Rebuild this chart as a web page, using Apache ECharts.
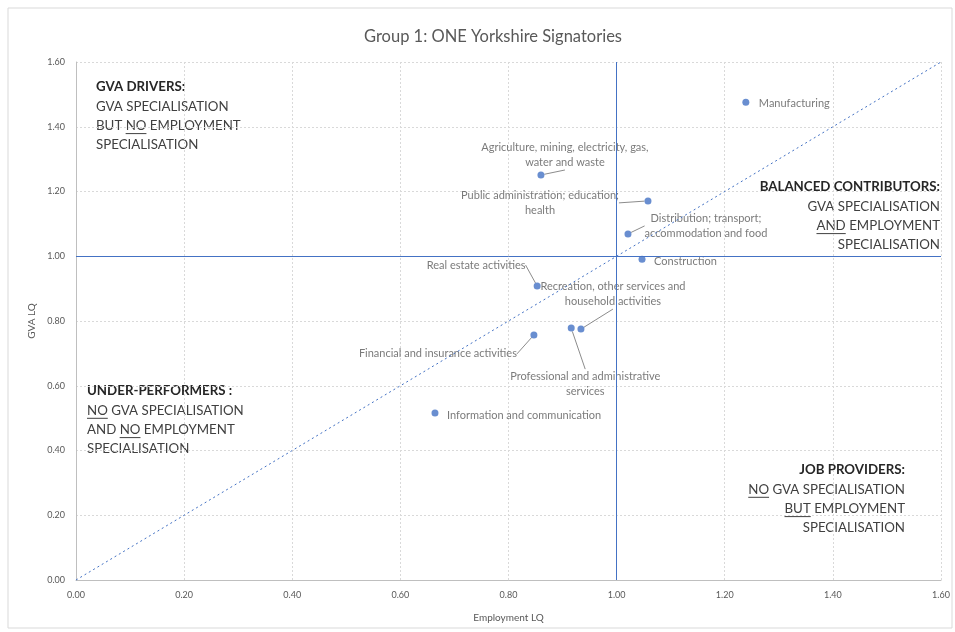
<!DOCTYPE html>
<html lang="en">
<head>
    <meta charset="UTF-8">
    <title>Group 1: ONE Yorkshire Signatories</title>
    <script src="https://cdn.jsdelivr.net/npm/echarts@6/dist/echarts.min.js"></script>
    <style>
        html, body { margin: 0; padding: 0; background: #fff; }
    </style>
</head>
<body>
    <div id="main" style="width: 955px;height:632px;"></div>

    <script type="text/javascript">
        // data
        var sectors = [
            'Manufacturing',
            'Agriculture, mining, electricity, gas,\nwater and waste',
            'Public administration; education;\nhealth',
            'Distribution; transport;\naccommodation and food',
            'Construction',
            'Real estate activities',
            'Recreation, other services and\nhousehold activities',
            'Professional and administrative\nservices',
            'Financial and insurance activities',
            'Information and communication'
        ];
        var employmentLQ = [1.239, 0.860, 1.058, 1.021, 1.047, 0.853, 0.934, 0.916, 0.847, 0.664];
        var gvaLQ = [1.476, 1.251, 1.171, 1.069, 0.991, 0.908, 0.775, 0.778, 0.757, 0.516];
        var axisMax = 1.6;
        var axisStep = 0.2;
        var refLQ = 1.0;

        // label placement (offset of label from its point, px)
        var labelPlace = [
            { dx: 13, dy: 1, align: 'left', line: false },
            { dx: 24, dy: -20, align: 'center', line: true },
            { dx: -108, dy: 2, align: 'center', line: true },
            { dx: 78, dy: -8, align: 'center', line: true },
            { dx: 12, dy: 2, align: 'left', line: false },
            { dx: -61, dy: -21, align: 'center', line: true },
            { dx: 32, dy: -35, align: 'center', line: true },
            { dx: 14, dy: 56, align: 'center', line: true },
            { dx: -96, dy: 19, align: 'center', line: true },
            { dx: 12, dy: 3, align: 'left', line: false }
        ];

        // quadrant notes, "_" marks underlined words
        var quadrants = [
            { x: 96, y: 87, align: 'left', lines: ['GVA DRIVERS:', 'GVA SPECIALISATION', 'BUT _NO_ EMPLOYMENT', 'SPECIALISATION'] },
            { x: 87, y: 391, align: 'left', lines: ['UNDER-PERFORMERS :', '_NO_ GVA SPECIALISATION', 'AND _NO_ EMPLOYMENT', 'SPECIALISATION'] },
            { x: 940, y: 187, align: 'right', lines: ['BALANCED CONTRIBUTORS:', 'GVA SPECIALISATION', '_AND_ EMPLOYMENT', 'SPECIALISATION'] },
            { x: 905, y: 470, align: 'right', lines: ['JOB PROVIDERS:', '_NO_ GVA SPECIALISATION', '_BUT_ EMPLOYMENT', 'SPECIALISATION'] }
        ];

        var FONT = 'Lato';
        var noteSize = 13.3;
        var lineH = 19.3;

        var measure = document.createElement('canvas').getContext('2d');
        function textW(s, font) {
            measure.font = font;
            return measure.measureText(s).width;
        }

        var graphics = [{
            type: 'rect',
            shape: { x: 8, y: 8, width: 944, height: 620 },
            style: { fill: 'none', stroke: '#d9d9d9', lineWidth: 1 },
            silent: true
        }];

        quadrants.forEach(function (q) {
            q.lines.forEach(function (raw, i) {
                var plain = raw.replace(/_/g, '');
                var bold = i === 0;
                var font = (bold ? 'bold ' : '') + noteSize + 'px ' + FONT;
                var y = q.y + i * lineH;
                graphics.push({
                    type: 'text',
                    x: q.x,
                    y: y,
                    silent: true,
                    style: {
                        text: plain,
                        fontFamily: FONT,
                        fontSize: noteSize,
                        fontWeight: bold ? 'bold' : 'normal',
                        fill: bold ? '#262626' : '#404040',
                        align: q.align,
                        verticalAlign: 'middle'
                    }
                });
                var left = q.align === 'left' ? q.x : q.x - textW(plain, font);
                var re = /_([^_]+)_/g, m;
                while ((m = re.exec(raw)) !== null) {
                    var before = raw.slice(0, m.index).replace(/_/g, '');
                    var x0 = left + textW(before, font);
                    var x1 = x0 + textW(m[1], font);
                    graphics.push({
                        type: 'line',
                        silent: true,
                        shape: { x1: x0, y1: y + 8, x2: x1, y2: y + 8 },
                        style: { stroke: '#404040', lineWidth: 1 }
                    });
                }
            });
        });

        var points = employmentLQ.map(function (x, i) {
            return {
                name: sectors[i],
                value: [x, gvaLQ[i]],
                label: { align: labelPlace[i].align },
                labelLine: { show: labelPlace[i].line }
            };
        });

        var myChart = echarts.init(document.getElementById('main'));

        var axisCommon = {
            type: 'value',
            min: 0,
            max: axisMax,
            interval: axisStep,
            nameLocation: 'middle',
            nameTextStyle: { color: '#595959', fontSize: 10, fontFamily: FONT },
            axisLine: { show: true, lineStyle: { color: '#bfbfbf' } },
            axisTick: { show: false },
            axisLabel: {
                color: '#595959',
                fontSize: 9,
                fontFamily: FONT,
                formatter: function (v) { return v.toFixed(2); }
            },
            splitLine: { show: true, lineStyle: { color: '#d9d9d9', type: [2, 2] } }
        };

        var option = {
            backgroundColor: '#ffffff',
            animation: false,
            title: {
                text: 'Group 1: ONE Yorkshire Signatories',
                left: 488,
                top: 23,
                textAlign: 'center',
                textStyle: { color: '#595959', fontSize: 16.5, fontWeight: 'normal', fontFamily: FONT }
            },
            grid: { left: 76, right: 14, top: 62, bottom: 52 },
            xAxis: Object.assign({}, axisCommon, {
                name: 'Employment LQ',
                nameGap: 33,
                axisLabel: Object.assign({}, axisCommon.axisLabel, { margin: 11 })
            }),
            yAxis: Object.assign({}, axisCommon, {
                name: 'GVA LQ',
                nameGap: 36,
                axisLabel: Object.assign({}, axisCommon.axisLabel, { margin: 11 })
            }),
            graphic: graphics,
            series: [{
                type: 'scatter',
                symbolSize: 7,
                itemStyle: { color: '#4472c4' },
                data: points,
                label: {
                    show: true,
                    formatter: '{b}',
                    color: '#595959',
                    fontSize: 11,
                    fontFamily: FONT,
                    lineHeight: 15,
                    verticalAlign: 'middle'
                },
                labelLine: { show: true, lineStyle: { color: '#8c8c8c', width: 1 } },
                labelLayout: function (params) {
                    var p = labelPlace[params.dataIndex];
                    return {
                        x: params.rect.x + params.rect.width / 2 + p.dx,
                        y: params.rect.y + params.rect.height / 2 + p.dy,
                        align: p.align,
                        verticalAlign: 'middle'
                    };
                },
                markLine: {
                    silent: true,
                    symbol: 'none',
                    label: { show: false },
                    data: [
                        [{ coord: [0, 0], lineStyle: { color: '#4472c4', type: [2, 3], width: 1 } }, { coord: [axisMax, axisMax] }],
                        { xAxis: refLQ, lineStyle: { color: '#4472c4', type: 'solid', width: 1 } },
                        { yAxis: refLQ, lineStyle: { color: '#4472c4', type: 'solid', width: 1 } }
                    ]
                }
            }]
        };

        myChart.setOption(option);
    </script>
</body>
</html>
